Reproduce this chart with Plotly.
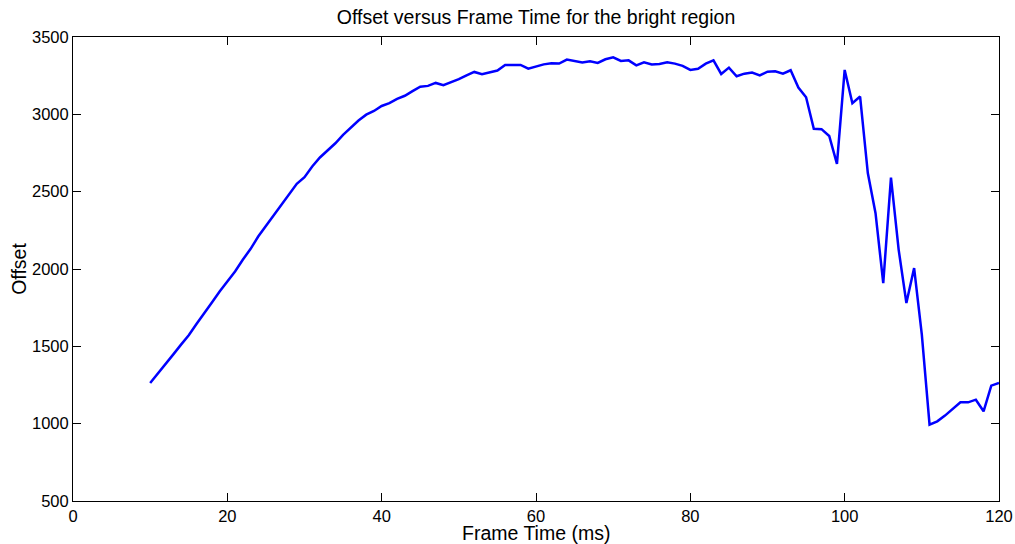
import plotly.graph_objects as go

# frame time in ms, one sample per ms
frame_time = list(range(10, 121))

# offset
offset = [
    1263, 1323, 1382, 1448, 1511, 1572, 1644, 1711, 1784, 1855,   # 10-19
    1918, 1984, 2060, 2129, 2210, 2279, 2350, 2419, 2486, 2551,   # 20-29
    2594, 2663, 2721, 2766, 2813, 2867, 2914, 2960, 2998, 3022,   # 30-39
    3054, 3072, 3100, 3120, 3150, 3179, 3184, 3203, 3188, 3205,   # 40-49
    3227, 3252, 3274, 3259, 3272, 3283, 3319, 3317, 3319, 3295,   # 50-59
    3308, 3323, 3330, 3328, 3354, 3345, 3336, 3343, 3332, 3356,   # 60-69
    3369, 3345, 3349, 3317, 3336, 3323, 3325, 3336, 3328, 3313,   # 70-79
    3287, 3295, 3328, 3349, 3261, 3302, 3246, 3263, 3270, 3252,   # 80-89
    3276, 3278, 3263, 3285, 3173, 3110, 2906, 2904, 2860, 2680,   # 90-99
    3287, 3072, 3115, 2620, 2361, 1909, 2591, 2124, 1780, 2006,   # 100-109
    1575, 994, 1015, 1052, 1095, 1138, 1138, 1155, 1080, 1246,    # 110-119
    1263,                                                         # 120
]

x_ticks = [0, 20, 40, 60, 80, 100, 120]
y_ticks = [500, 1000, 1500, 2000, 2500, 3000, 3500]

FONT = 'Liberation Sans, Arial'
W, H = 1015, 544

fig = go.Figure()
fig.add_trace(go.Scatter(x=frame_time, y=offset, mode='lines',
                         line=dict(color='#0000ff', width=2.5), showlegend=False))

axis_style = dict(showline=True, linewidth=1, linecolor='black', mirror='ticks',
                  ticks='inside', ticklen=8, tickwidth=1, tickcolor='black',
                  showgrid=False, zeroline=False, automargin=False,
                  tickfont=dict(family=FONT, size=16.5, color='black'))

fig.update_xaxes(range=[0, 120], tickvals=x_ticks, **axis_style)
fig.update_yaxes(range=[500, 3500], tickvals=y_ticks, **axis_style,
                 title=dict(text='Offset', standoff=0,
                            font=dict(family=FONT, size=19.5, color='black')))

fig.add_annotation(text='Frame Time (ms)', x=0.5, xref='paper', y=-32 / 464, yref='paper',
                   yanchor='middle', showarrow=False,
                   font=dict(family=FONT, size=19.5, color='black'))

fig.update_layout(
    title=dict(text='Offset versus Frame Time for the bright region', x=0.5, xref='paper',
               y=1 - 17 / H, yanchor='middle',
               font=dict(family=FONT, size=19.5, color='black')),
    width=W, height=H,
    margin=dict(l=73, r=16, t=37, b=43),
    plot_bgcolor='white', paper_bgcolor='white',
)

# drop the default page margin so the figure sits at the window's top-left corner
fig.write_html("out.html", config={'displayModeBar': False},
               post_script="document.body.style.margin='0';document.body.style.overflow='hidden';")
